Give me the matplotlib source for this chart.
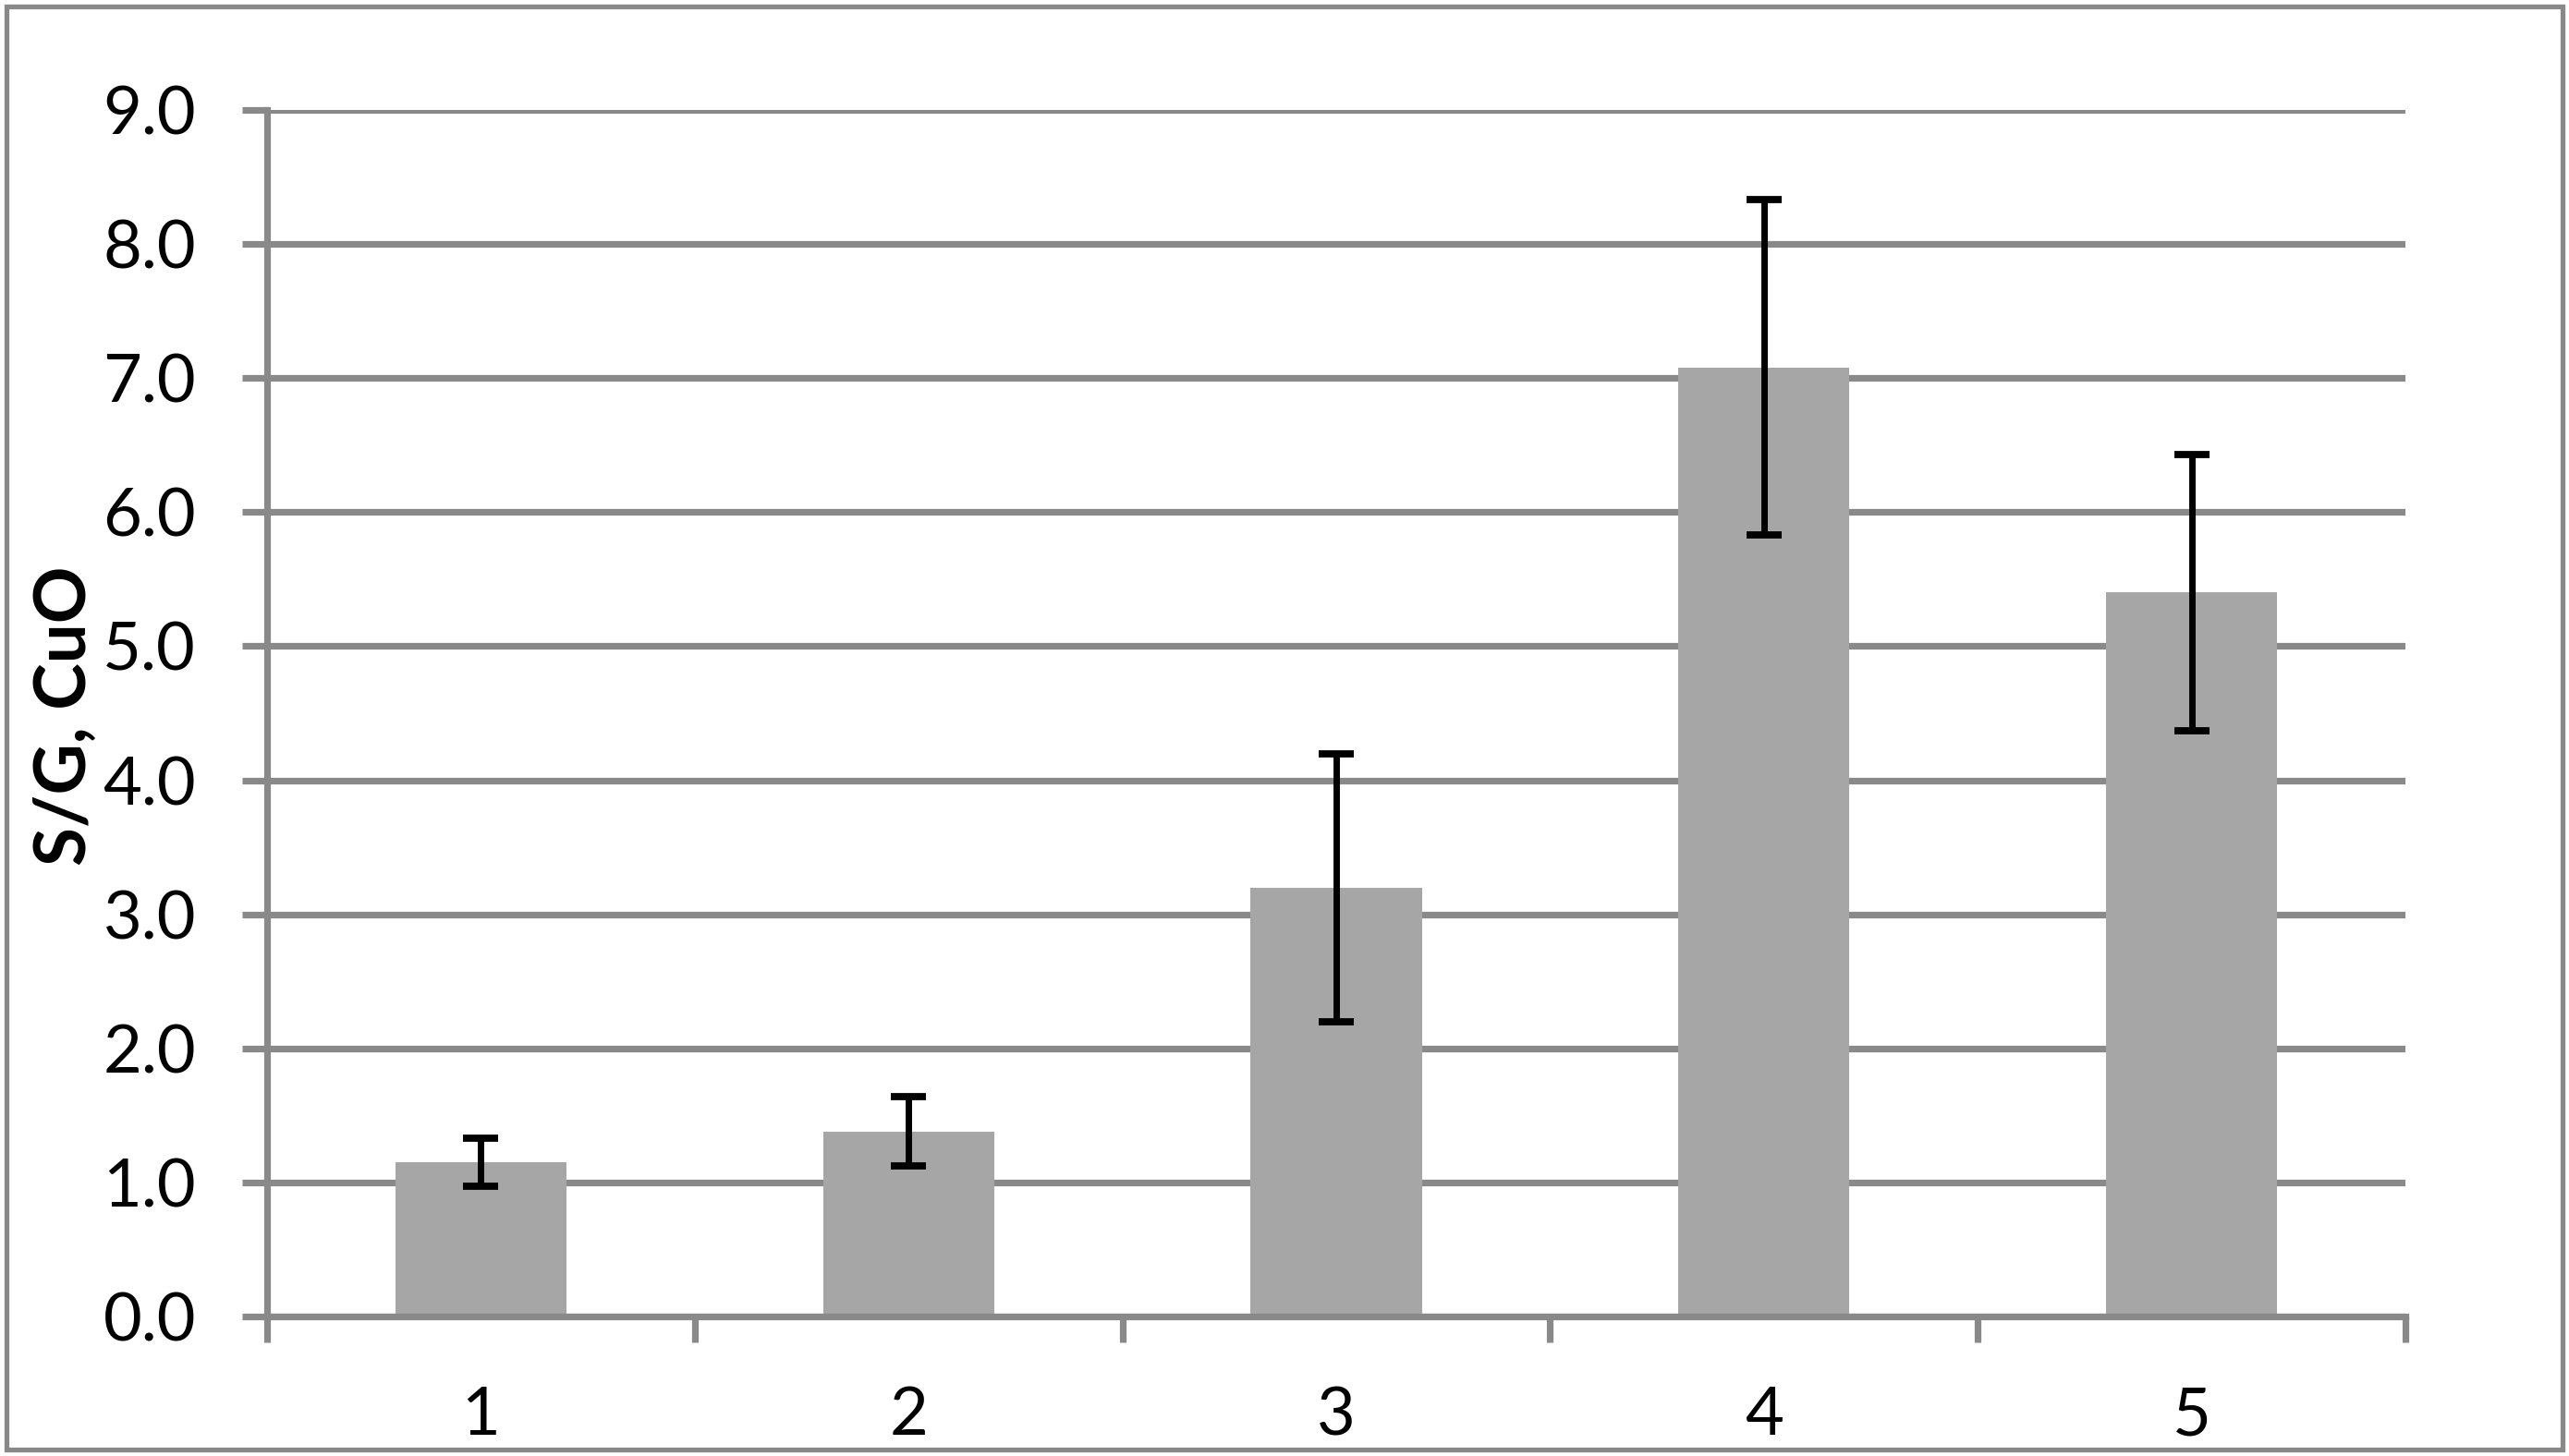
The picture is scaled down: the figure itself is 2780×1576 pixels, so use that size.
from matplotlib import pyplot as plt
from matplotlib.patches import Rectangle
import numpy as np

# values
categories = ['1', '2', '3', '4', '5']
sg_values = [1.15, 1.38, 3.20, 7.08, 5.40]
sg_errors = [0.18, 0.26, 1.00, 1.25, 1.03]
y_ticks = [0, 1, 2, 3, 4, 5, 6, 7, 8, 9]

GRID = '#898989'
BAR = '#a6a6a6'
DPI = 200
W, H = 2780, 1576
LW = 2.6

plt.rcParams['font.family'] = ['Lato', 'DejaVu Sans']

fig = plt.figure(figsize=(W / DPI, H / DPI), dpi=DPI)
ax = fig.add_axes([289 / W, 151 / H, (2603 - 289) / W, (1425 - 119) / H])

x = np.arange(1, len(categories) + 1)
ax.bar(x, sg_values, width=0.4, color=BAR, zorder=2)
ax.errorbar(x, sg_values, yerr=sg_errors, fmt='none', ecolor='black',
            elinewidth=2.5, capsize=6.8, capthick=2.8, zorder=3)

ax.set_xlim(0.5, len(categories) + 0.5)
ax.set_ylim(0, 9)

# y axis: gridlines plus small outward ticks
ax.set_yticks(y_ticks)
ax.set_yticklabels(['%.1f' % v for v in y_ticks])
ax.yaxis.grid(True, color=GRID, linewidth=LW, zorder=0)
ax.set_axisbelow(True)
ax.tick_params(axis='y', direction='out', length=9.7, width=LW, color=GRID,
               pad=18, labelsize=26)

# x axis: ticks between categories, labels centred under bars
ax.set_xticks(np.arange(0.5, len(categories) + 1, 1.0))
ax.set_xticklabels([])
ax.set_xticks(x, minor=True)
ax.set_xticklabels(categories, minor=True)
ax.tick_params(axis='x', which='major', direction='out', length=10, width=LW, color=GRID)
ax.tick_params(axis='x', which='minor', length=0, pad=27, labelsize=26)

for side in ['top', 'right']:
    ax.spines[side].set_visible(False)
for side in ['left', 'bottom']:
    ax.spines[side].set_color(GRID)
    ax.spines[side].set_linewidth(LW)

fig.text(71 / W, 1 - 775 / H, 'S/G, CuO', rotation=90, ha='center', va='center',
         fontsize=27.5, fontweight='bold')

# grey frame round the whole chart
fig.add_artist(Rectangle((7 / W, 7 / H), (W - 14) / W, (H - 14) / H,
                         transform=fig.transFigure, fill=False,
                         edgecolor=GRID, linewidth=1.9))

fig.savefig('out.png', dpi=DPI)
